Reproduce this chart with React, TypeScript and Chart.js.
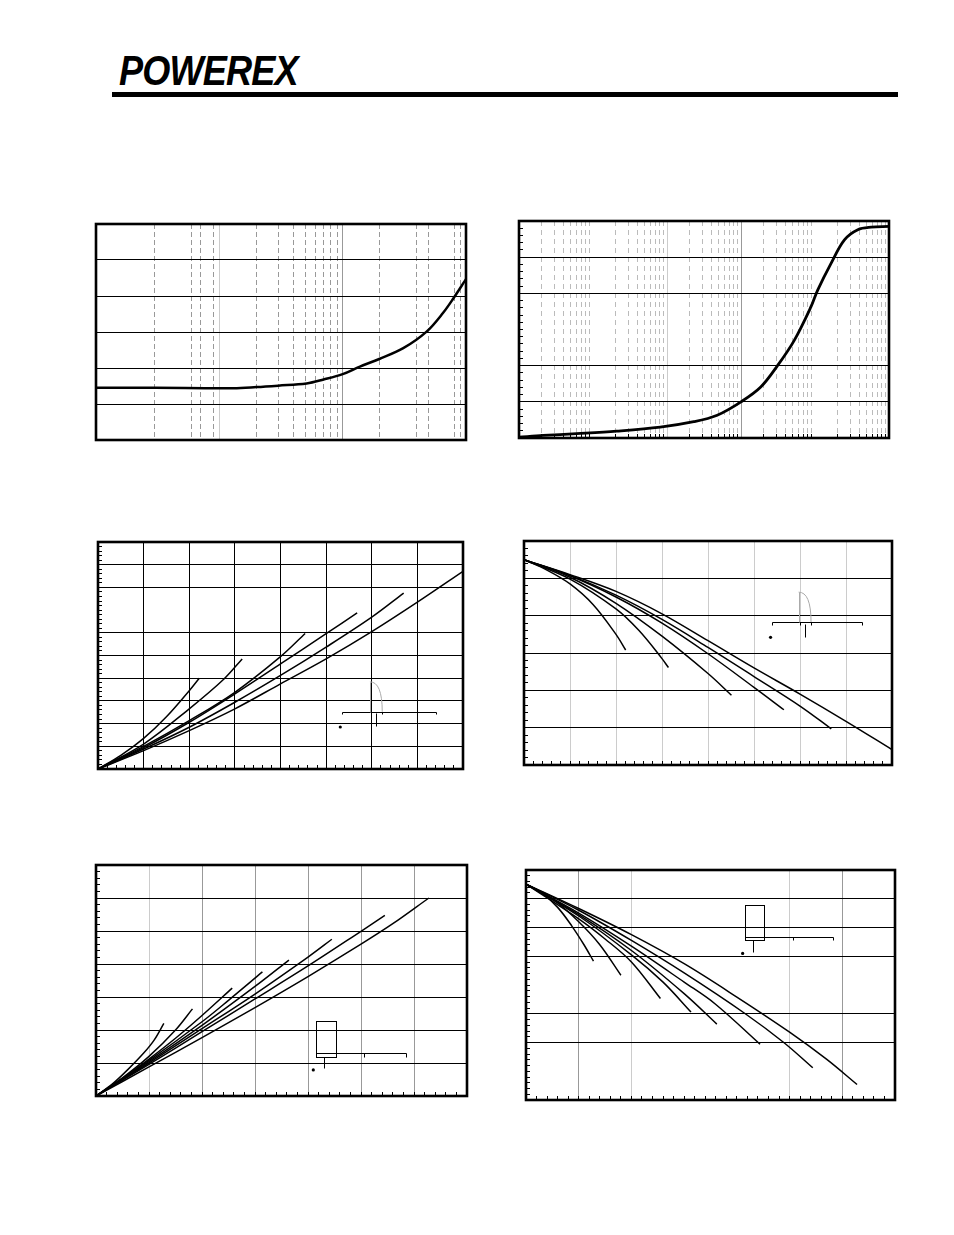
import React, { useEffect, useRef } from 'react';
import { Chart, registerables } from 'chart.js';
Chart.register(...registerables);

type Pt = [number, number];

// ---------- Chart 1 (top-left, log x: 1..1000, y 0..6) ----------
const c1Curve: Pt[] = [[1, 1.45], [3, 1.45], [13, 1.44], [20, 1.47], [30, 1.51], [51, 1.57], [70, 1.68], [100, 1.83], [138, 2.04], [198, 2.25], [310, 2.55], [479, 3.01], [655, 3.54], [789, 3.93], [1000, 4.47]];
const c1GridH = [1, 2, 3, 4, 5];
const c1GridDashed = [3, 6, 7, 9, 20, 30, 40, 50, 60, 70, 80, 90, 200, 400, 500, 800, 900];
const c1GridLight = [10];
const c1GridMid = [100];

// ---------- Chart 2 (top-right, log x: 1..1e5, y 0..6) ----------
const c2Curve: Pt[] = [[1, 0.02], [2.12, 0.07], [6, 0.12], [20.9, 0.19], [81, 0.3], [230, 0.45], [477, 0.63], [1000, 1.0], [1849, 1.41], [3113, 2.0], [5245, 2.7], [8830, 3.63], [10870, 4.09], [16480, 4.83], [25000, 5.48], [37900, 5.76], [57500, 5.83], [100000, 5.85]];
const c2GridH = [1, 2, 4, 5];
const c2GridLight = [100];
const c2GridMid = [1000];
const c2Multipliers = [2, 3, 4, 5, 6, 7, 8, 9];
const c2Decades = [1, 10, 100, 1000, 10000];

// ---------- Chart 3 (middle-left, x 0..8, y 0..10) ----------
const c3S1: Pt[] = [[0, 0], [0.5, 0.6], [1, 1.35], [1.5, 2.3], [2, 3.45], [2.22, 4.0]];
const c3S2: Pt[] = [[0, 0], [1, 1.1], [2, 2.65], [2.75, 3.94], [3.16, 4.85]];
const c3S3: Pt[] = [[0, 0], [1, 1.0], [2, 2.13], [3, 3.38], [4, 4.95], [4.54, 5.97]];
const c3S4: Pt[] = [[0, 0], [1, 0.94], [2, 2.06], [3, 3.31], [4, 4.63], [5, 5.96], [5.68, 6.88]];
const c3S5: Pt[] = [[0, 0], [1, 0.88], [2, 1.84], [3, 2.94], [4, 4.12], [5, 5.37], [6, 6.69], [6.7, 7.75]];
const c3S6: Pt[] = [[0, 0], [1, 0.81], [2, 1.69], [3, 2.65], [4, 3.75], [5, 4.85], [6, 6.05], [7, 7.35], [8, 8.71]];
const c3GridV = [1, 2, 3, 4, 5, 6, 7];
const c3GridH = [1, 2, 3, 4, 5, 6, 8, 9];

// ---------- Chart 4 (middle-right, x 0..8, y 0..6) ----------
const c4S1: Pt[] = [[0, 5.5], [0.5, 5.22], [1, 4.85], [1.5, 4.3], [2, 3.5], [2.21, 3.08]];
const c4S2: Pt[] = [[0, 5.5], [1, 4.98], [2, 4.18], [2.5, 3.6], [3, 2.85], [3.14, 2.61]];
const c4S3: Pt[] = [[0, 5.5], [1, 5.03], [2, 4.33], [3, 3.45], [4, 2.45], [4.51, 1.87]];
const c4S4: Pt[] = [[0, 5.5], [1, 5.07], [2, 4.5], [3, 3.8], [4, 2.98], [5, 2.08], [5.65, 1.48]];
const c4S5: Pt[] = [[0, 5.5], [1, 5.08], [2, 4.55], [3, 3.9], [4, 3.15], [5, 2.37], [6, 1.58], [6.68, 0.97]];
const c4S6: Pt[] = [[0, 5.5], [1, 5.1], [2, 4.65], [3, 4.05], [4, 3.33], [5, 2.6], [6, 1.9], [7, 1.17], [7.99, 0.42]];
const c4GridV = [1, 2, 3, 4, 5, 6, 7];
const c4GridH = [1, 2, 3, 4, 5];

// ---------- Chart 5 (bottom-left, x 0..7, y 0..7) ----------
const c5S1: Pt[] = [[0, 0], [0.3, 0.35], [0.6, 0.8], [0.9, 1.3], [1.1, 1.7], [1.28, 2.2]];
const c5S2: Pt[] = [[0, 0], [0.5, 0.55], [1, 1.2], [1.5, 2.0], [1.82, 2.64]];
const c5S3: Pt[] = [[0, 0], [0.5, 0.53], [1, 1.12], [1.5, 1.75], [2, 2.44], [2.57, 3.27]];
const c5S4: Pt[] = [[0, 0], [1, 1.08], [2, 2.25], [2.5, 2.9], [3.14, 3.76]];
const c5S5: Pt[] = [[0, 0], [1, 1.04], [2, 2.14], [3, 3.32], [3.64, 4.12]];
const c5S6: Pt[] = [[0, 0], [1, 1.0], [2, 2.04], [3, 3.09], [4, 4.21], [4.45, 4.75]];
const c5S7: Pt[] = [[0, 0], [1, 0.96], [2, 1.95], [3, 2.94], [4, 3.94], [5, 4.99], [5.45, 5.47]];
const c5S8: Pt[] = [[0, 0], [1, 0.88], [2, 1.77], [3, 2.68], [4, 3.62], [5, 4.6], [5.6, 5.22], [6.28, 6.0]];
const c5GridVLight = [1];
const c5GridV = [2, 3, 4, 5, 6];
const c5GridH = [1, 2, 3, 4, 5, 6];

// ---------- Chart 6 (bottom-right, x 0..7, y 0..8) ----------
const c6S1: Pt[] = [[0, 7.51], [0.3, 7.2], [0.6, 6.7], [0.87, 6.05], [1.1, 5.4], [1.28, 4.83]];
const c6S2: Pt[] = [[0, 7.51], [0.5, 7.0], [1, 6.2], [1.4, 5.4], [1.8, 4.34]];
const c6S3: Pt[] = [[0, 7.51], [1, 6.3], [1.5, 5.6], [2, 4.8], [2.55, 3.53]];
const c6S4: Pt[] = [[0, 7.51], [1, 6.4], [2, 5.05], [2.6, 4.1], [3.13, 3.06]];
const c6S5: Pt[] = [[0, 7.51], [1, 6.45], [2, 5.2], [3, 3.7], [3.62, 2.64]];
const c6S6: Pt[] = [[0, 7.51], [1, 6.5], [2, 5.35], [3, 4.1], [3.59, 3.34], [4.44, 1.94]];
const c6S7: Pt[] = [[0, 7.51], [1, 6.6], [2, 5.55], [3, 4.42], [4.16, 3.0], [4.89, 2.0], [5.44, 1.12]];
const c6S8: Pt[] = [[0, 7.51], [1, 6.66], [2, 5.75], [3, 4.74], [4, 3.58], [5, 2.36], [5.7, 1.42], [6.28, 0.54]];
const c6GridVMid = [1, 6];
const c6GridVLight = [2, 5];
const c6GridH = [2, 3, 5, 6, 7];

// ---------- small waveform insets (data units) ----------
type Shape = { kind: 'line' | 'curve' | 'rect' | 'dot'; pts: Pt[]; color?: string };
const c3Inset: Shape[] = [
  { kind: 'line', pts: [[5.34, 2.42], [5.34, 2.52], [7.4, 2.52], [7.4, 2.42]] },
  { kind: 'line', pts: [[5.98, 2.42], [5.98, 2.52]] },
  { kind: 'line', pts: [[6.23, 2.42], [6.23, 2.52]] },
  { kind: 'line', pts: [[6.09, 2.45], [6.09, 1.9]] },
  { kind: 'line', pts: [[5.96, 2.52], [5.96, 3.84]], color: '#aaa' },
  { kind: 'curve', pts: [[5.96, 3.84], [6.23, 3.84], [6.23, 2.52]], color: '#aaa' },
  { kind: 'dot', pts: [[5.31, 1.85]] },
];
const c4Inset: Shape[] = [
  { kind: 'line', pts: [[5.39, 3.76], [5.39, 3.83], [7.34, 3.83], [7.34, 3.76]] },
  { kind: 'line', pts: [[6.0, 3.76], [6.0, 3.83]] },
  { kind: 'line', pts: [[6.24, 3.76], [6.24, 3.83]] },
  { kind: 'line', pts: [[6.1, 3.78], [6.1, 3.44]] },
  { kind: 'line', pts: [[5.97, 3.83], [5.97, 4.63]], color: '#aaa' },
  { kind: 'curve', pts: [[5.97, 4.63], [6.24, 4.63], [6.24, 3.83]], color: '#aaa' },
  { kind: 'dot', pts: [[5.36, 3.42]] },
];
const c5Inset: Shape[] = [
  { kind: 'rect', pts: [[4.16, 2.26], [4.52, 1.19]] },
  { kind: 'line', pts: [[4.16, 1.29], [5.85, 1.29], [5.85, 1.19]] },
  { kind: 'line', pts: [[5.06, 1.29], [5.06, 1.19]] },
  { kind: 'line', pts: [[4.31, 1.19], [4.31, 0.84]] },
  { kind: 'dot', pts: [[4.1, 0.79]] },
];
const c6Inset: Shape[] = [
  { kind: 'rect', pts: [[4.16, 6.8], [4.52, 5.58]] },
  { kind: 'line', pts: [[4.16, 5.67], [5.83, 5.67], [5.83, 5.58]] },
  { kind: 'line', pts: [[5.06, 5.67], [5.06, 5.58]] },
  { kind: 'line', pts: [[4.31, 5.58], [4.31, 5.15]] },
  { kind: 'dot', pts: [[4.11, 5.1]] },
];

// ---------- helpers for axis decorations ----------
const steps = (from: number, to: number, step: number) => {
  const out: number[] = [];
  for (let v = from; v <= to + 1e-9; v += step) out.push(+v.toFixed(4));
  return out;
};
const logMinors = (decades: number[], mult: number[]) => decades.flatMap((d) => mult.map((m) => d * m));

type Grid = { values: number[]; color: string; width?: number; dash?: number[] };
interface Spec {
  box: [number, number, number, number];
  xLog?: boolean;
  x: [number, number];
  y: [number, number];
  series: Pt[][];
  lineWidth: number;
  vGrid: Grid[];
  hGrid: Grid[];
  xMinor?: number[];
  yMinor?: number[];
  shapes?: Shape[];
}

const PAD = 6;

function makeDecor(spec: Spec) {
  const crisp = (p: number, w: number) => (Math.round(w) % 2 === 1 ? Math.floor(p) + 0.5 : Math.round(p));
  return {
    id: 'decor',
    beforeDatasetsDraw(chart: any) {
      const { ctx, chartArea: a } = chart;
      const xs = chart.scales.x;
      const ys = chart.scales.y;
      ctx.save();
      for (const g of spec.vGrid) {
        const w = g.width ?? 1;
        ctx.strokeStyle = g.color;
        ctx.lineWidth = w;
        ctx.setLineDash(g.dash ?? []);
        for (const v of g.values) {
          const p = crisp(xs.getPixelForValue(v), w);
          ctx.beginPath();
          ctx.moveTo(p, a.top);
          ctx.lineTo(p, a.bottom);
          ctx.stroke();
        }
      }
      for (const g of spec.hGrid) {
        const w = g.width ?? 1;
        ctx.strokeStyle = g.color;
        ctx.lineWidth = w;
        ctx.setLineDash(g.dash ?? []);
        for (const v of g.values) {
          const p = crisp(ys.getPixelForValue(v), w);
          ctx.beginPath();
          ctx.moveTo(a.left, p);
          ctx.lineTo(a.right, p);
          ctx.stroke();
        }
      }
      ctx.setLineDash([]);
      ctx.strokeStyle = '#000';
      ctx.lineWidth = 1;
      for (const v of spec.xMinor ?? []) {
        const p = crisp(xs.getPixelForValue(v), 1);
        ctx.beginPath();
        ctx.moveTo(p, a.bottom);
        ctx.lineTo(p, a.bottom - 4);
        ctx.stroke();
      }
      for (const v of spec.yMinor ?? []) {
        const p = crisp(ys.getPixelForValue(v), 1);
        ctx.beginPath();
        ctx.moveTo(a.left, p);
        ctx.lineTo(a.left + 4, p);
        ctx.stroke();
      }
      ctx.restore();
    },
    afterDatasetsDraw(chart: any) {
      const { ctx, chartArea: a } = chart;
      const xs = chart.scales.x;
      const ys = chart.scales.y;
      const P = (pt: Pt) => [xs.getPixelForValue(pt[0]), ys.getPixelForValue(pt[1])];
      ctx.save();
      for (const s of spec.shapes ?? []) {
        ctx.strokeStyle = s.color ?? '#000';
        ctx.fillStyle = s.color ?? '#000';
        ctx.lineWidth = 1;
        const pp = s.pts.map(P);
        if (s.kind === 'line') {
          ctx.beginPath();
          pp.forEach(([x, y], i) => (i ? ctx.lineTo(Math.round(x) + 0.5, Math.round(y) + 0.5) : ctx.moveTo(Math.round(x) + 0.5, Math.round(y) + 0.5)));
          ctx.stroke();
        } else if (s.kind === 'curve') {
          ctx.beginPath();
          ctx.moveTo(pp[0][0], pp[0][1]);
          ctx.quadraticCurveTo(pp[1][0], pp[1][1], pp[2][0], pp[2][1]);
          ctx.stroke();
        } else if (s.kind === 'rect') {
          const x1 = Math.round(pp[0][0]) + 0.5, y1 = Math.round(pp[0][1]) + 0.5;
          const x2 = Math.round(pp[1][0]) + 0.5, y2 = Math.round(pp[1][1]) + 0.5;
          ctx.strokeRect(x1, y1, x2 - x1, y2 - y1);
        } else if (s.kind === 'dot') {
          ctx.beginPath();
          ctx.arc(pp[0][0], pp[0][1], 1.6, 0, Math.PI * 2);
          ctx.fill();
        }
      }
      ctx.strokeStyle = '#000';
      ctx.lineWidth = 2.6;
      ctx.strokeRect(a.left, a.top, a.right - a.left, a.bottom - a.top);
      ctx.restore();
    },
  };
}

function ChartBox({ spec }: { spec: Spec }) {
  const ref = useRef<HTMLCanvasElement | null>(null);
  const [l, t, r, b] = spec.box;
  const w = r - l + 2 * PAD;
  const h = b - t + 2 * PAD;
  useEffect(() => {
    if (!ref.current) return;
    const chart = new Chart(ref.current, {
      type: 'line',
      data: {
        datasets: spec.series.map((s) => ({
          data: s.map(([x, y]) => ({ x, y })),
          borderColor: '#000',
          borderWidth: spec.lineWidth,
          pointRadius: 0,
          fill: false,
          tension: 0.35,
        })),
      },
      options: {
        animation: false,
        responsive: false,
        devicePixelRatio: 1,
        events: [],
        layout: { padding: PAD },
        plugins: { legend: { display: false }, tooltip: { enabled: false } },
        scales: {
          x: { type: spec.xLog ? 'logarithmic' : 'linear', min: spec.x[0], max: spec.x[1], display: false },
          y: { type: 'linear', min: spec.y[0], max: spec.y[1], display: false },
        },
      } as any,
      plugins: [makeDecor(spec)],
    });
    return () => chart.destroy();
  }, [spec]);
  return (
    <canvas
      ref={ref}
      width={w}
      height={h}
      style={{ position: 'absolute', left: l - PAD, top: t - PAD, width: w, height: h }}
    />
  );
}

const specs: Spec[] = [
  {
    box: [96, 224, 466, 440],
    xLog: true,
    x: [1, 1000],
    y: [0, 6],
    series: [c1Curve],
    lineWidth: 2.5,
    vGrid: [
      { values: c1GridDashed, color: '#999', dash: [5, 3] },
      { values: c1GridLight, color: '#ccc' },
      { values: c1GridMid, color: '#999' },
    ],
    hGrid: [{ values: c1GridH, color: '#000' }],
  },
  {
    box: [519, 221, 889, 438],
    xLog: true,
    x: [1, 100000],
    y: [0, 6],
    series: [c2Curve],
    lineWidth: 2.8,
    vGrid: [
      { values: logMinors(c2Decades, c2Multipliers), color: '#bbb', dash: [5, 4] },
      { values: c2GridLight, color: '#ccc' },
      { values: c2GridMid, color: '#999' },
    ],
    hGrid: [{ values: c2GridH, color: '#000' }],
    xMinor: logMinors(c2Decades, c2Multipliers),
    yMinor: steps(0.2, 5.8, 0.2),
  },
  {
    box: [98, 542, 463, 769],
    x: [0, 8],
    y: [0, 10],
    series: [c3S1, c3S2, c3S3, c3S4, c3S5, c3S6],
    lineWidth: 1.5,
    vGrid: [{ values: c3GridV, color: '#000' }],
    hGrid: [{ values: c3GridH, color: '#000' }],
    xMinor: steps(0.2, 7.8, 0.2),
    yMinor: steps(0.2, 9.8, 0.2),
    shapes: c3Inset,
  },
  {
    box: [524, 541, 892, 765],
    x: [0, 8],
    y: [0, 6],
    series: [c4S1, c4S2, c4S3, c4S4, c4S5, c4S6],
    lineWidth: 1.5,
    vGrid: [{ values: c4GridV, color: '#ccc' }],
    hGrid: [{ values: c4GridH, color: '#000' }],
    xMinor: steps(0.2, 7.8, 0.2),
    yMinor: steps(0.2, 5.8, 0.2),
    shapes: c4Inset,
  },
  {
    box: [96, 865, 467, 1096],
    x: [0, 7],
    y: [0, 7],
    series: [c5S1, c5S2, c5S3, c5S4, c5S5, c5S6, c5S7, c5S8],
    lineWidth: 1.5,
    vGrid: [
      { values: c5GridVLight, color: '#ccc' },
      { values: c5GridV, color: '#999' },
    ],
    hGrid: [{ values: c5GridH, color: '#000' }],
    xMinor: steps(0.2, 6.8, 0.2),
    yMinor: steps(0.2, 6.8, 0.2),
    shapes: c5Inset,
  },
  {
    box: [526, 870, 895, 1100],
    x: [0, 7],
    y: [0, 8],
    series: [c6S1, c6S2, c6S3, c6S4, c6S5, c6S6, c6S7, c6S8],
    lineWidth: 1.5,
    vGrid: [
      { values: c6GridVMid, color: '#999' },
      { values: c6GridVLight, color: '#ccc' },
    ],
    hGrid: [{ values: c6GridH, color: '#000' }],
    xMinor: steps(0.2, 6.8, 0.2),
    yMinor: steps(0.2, 7.8, 0.2),
    shapes: c6Inset,
  },
];

export default function App() {
  return (
    <div style={{ position: 'absolute', left: 0, top: 0, width: 954, height: 1235, background: '#fff', overflow: 'hidden' }}>
      <div
        style={{
          position: 'absolute',
          left: 119,
          top: 50,
          fontFamily: '"Liberation Sans", Arial, sans-serif',
          fontWeight: 900,
          fontStyle: 'italic',
          fontSize: 42,
          lineHeight: '42px',
          letterSpacing: -1,
          transform: 'scaleX(0.86)',
          transformOrigin: 'left top',
          color: '#000',
          whiteSpace: 'nowrap',
        }}
      >
        POWEREX
      </div>
      <div style={{ position: 'absolute', left: 112, top: 92, width: 786, height: 5, background: '#000' }} />
      {specs.map((s, i) => (
        <ChartBox key={i} spec={s} />
      ))}
    </div>
  );
}
